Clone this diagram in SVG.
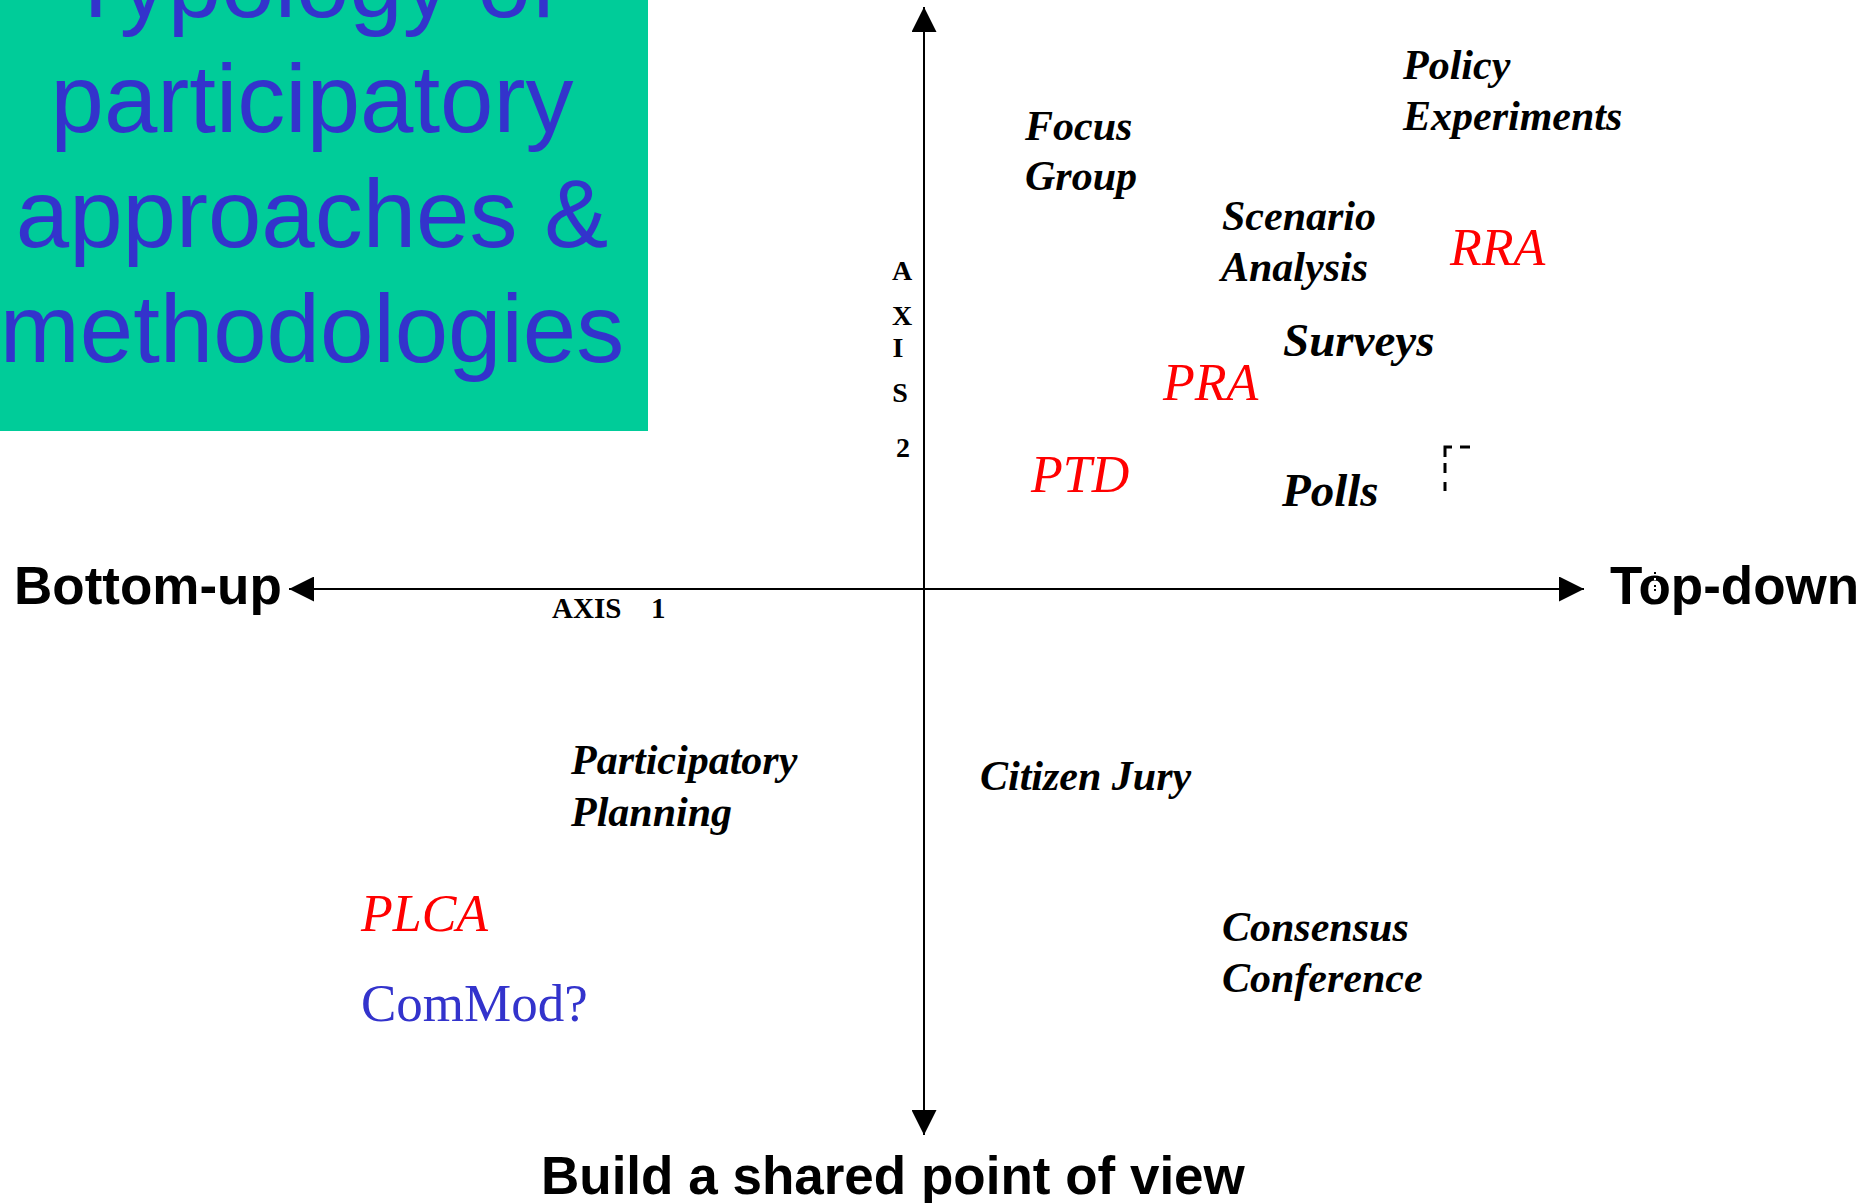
<svg xmlns="http://www.w3.org/2000/svg" width="1870" height="1203" viewBox="0 0 1870 1203">
<style>
.title{font-family:"Liberation Sans",Arial,sans-serif;font-size:96px;fill:#3333CC;text-anchor:middle}
.pole{font-family:"Liberation Sans",Arial,sans-serif;font-size:53px;font-weight:bold;fill:#000}
.ax{font-family:"Liberation Serif","Times New Roman",serif;font-weight:bold;fill:#000}
.lbl{font-family:"Liberation Serif","Times New Roman",serif;font-size:42px;font-weight:bold;font-style:italic;fill:#000}
.lbl2{font-family:"Liberation Serif","Times New Roman",serif;font-size:47px;font-weight:bold;font-style:italic;fill:#000}
.red{font-family:"Liberation Serif","Times New Roman",serif;font-size:52px;font-style:italic;fill:#FF0000}
.blue{font-family:"Liberation Serif","Times New Roman",serif;font-size:53px;fill:#3333CC}
.axis{stroke:#000;stroke-width:2;fill:none}
.dash{stroke:#000;stroke-width:3;fill:none}
</style>
<defs>
<marker id="arr" viewBox="0 0 25 25" refX="25" refY="12.5" markerWidth="25" markerHeight="25" markerUnits="userSpaceOnUse" orient="auto">
<path d="M0,0 L25,12.5 L0,25 Z" fill="#000"/>
</marker>
</defs>
<g id="title-box">
<rect x="0" y="0" width="648" height="431" fill="#00CC99"/>
<text class="title" x="312" y="17">Typology of</text>
<text class="title" x="312" y="132">participatory</text>
<text class="title" x="312" y="247">approaches &amp;</text>
<text class="title" x="312" y="362">methodologies</text>
</g>
<g id="connectors">
<line class="axis" x1="924" y1="589" x2="924" y2="7" marker-end="url(#arr)"/>
<line class="axis" x1="924" y1="589" x2="924" y2="1135" marker-end="url(#arr)"/>
<line class="axis" x1="924" y1="589" x2="289" y2="589" marker-end="url(#arr)"/>
<line class="axis" x1="924" y1="589" x2="1584" y2="589" marker-end="url(#arr)"/>
</g>
<g id="pole-bottom-up"><text class="pole" x="14" y="604">Bottom-up</text></g>
<g id="pole-top-down">
<text class="pole" x="1610" y="604">Top-down</text>
<line x1="1655" y1="572" x2="1655" y2="577" stroke="#000" stroke-width="2" stroke-dasharray="2 2"/>
<line x1="1655" y1="578" x2="1655" y2="584" stroke="#fff" stroke-width="2" stroke-dasharray="2 2"/>
<line x1="1655" y1="585" x2="1655" y2="592" stroke="#000" stroke-width="2" stroke-dasharray="2 2"/>
</g>
<g id="pole-bottom"><text class="pole" x="541" y="1194">Build a shared point of view</text></g>
<g id="axis1-label">
<text class="ax" x="552" y="618" style="font-size:29px">AXIS</text>
<text class="ax" x="651" y="618" style="font-size:29px">1</text>
</g>
<g id="axis2-label" class="ax" style="font-size:28px" text-anchor="middle">
<text x="902" y="280">A</text>
<text x="902" y="325">X</text>
<text x="898" y="357">I</text>
<text x="900" y="402">S</text>
<text x="903" y="457">2</text>
</g>
<g id="focus-group"><text class="lbl" x="1025" y="140">Focus</text><text class="lbl" x="1025" y="190">Group</text></g>
<g id="policy-experiments"><text class="lbl" x="1403" y="79">Policy</text><text class="lbl" x="1403" y="130">Experiments</text></g>
<g id="scenario-analysis"><text class="lbl" x="1222" y="230">Scenario</text><text class="lbl" x="1221" y="281">Analysis</text></g>
<g id="rra"><text class="red" x="1450" y="265">RRA</text></g>
<g id="surveys"><text class="lbl2" x="1283" y="356">Surveys</text></g>
<g id="pra"><text class="red" x="1163" y="400">PRA</text></g>
<g id="ptd"><text class="red" x="1031" y="492">PTD</text></g>
<g id="polls"><text class="lbl2" x="1282" y="506">Polls</text></g>
<g id="dashed-mark">
<line class="dash" x1="1445" y1="491" x2="1445" y2="482"/>
<line class="dash" x1="1445" y1="473" x2="1445" y2="463"/>
<polyline class="dash" points="1445,457 1445,447 1452,447"/>
<line class="dash" x1="1460" y1="447" x2="1470" y2="447"/>
</g>
<g id="participatory-planning"><text class="lbl" x="571" y="774">Participatory</text><text class="lbl" x="571" y="826">Planning</text></g>
<g id="citizen-jury"><text class="lbl" x="980" y="790">Citizen Jury</text></g>
<g id="plca"><text class="red" x="361" y="931">PLCA</text></g>
<g id="commod"><text class="blue" x="361" y="1021">ComMod?</text></g>
<g id="consensus-conference"><text class="lbl" x="1222" y="941">Consensus</text><text class="lbl" x="1222" y="992">Conference</text></g>
</svg>
